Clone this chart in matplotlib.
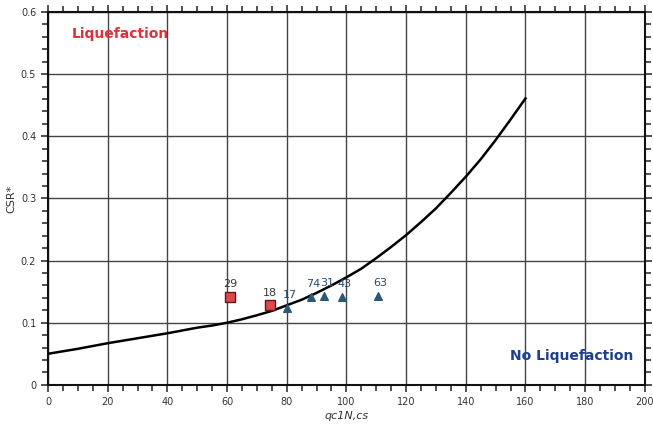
import matplotlib
matplotlib.use("Agg")
from matplotlib import pyplot as plt
from matplotlib.ticker import MultipleLocator
import numpy as np

# boundary curve
curve_q = [0, 5, 10, 15, 20, 25, 30, 35, 40, 45, 50, 55, 60, 65, 70, 75, 80,
           85, 90, 95, 100, 105, 110, 115, 120, 125, 130, 135, 140, 145, 150,
           155, 160]
curve_csr = [0.050, 0.054, 0.058, 0.0625, 0.067, 0.071, 0.075, 0.079, 0.083,
             0.0875, 0.092, 0.0955, 0.100, 0.1055, 0.112, 0.119, 0.128, 0.137,
             0.148, 0.160, 0.173, 0.187, 0.204, 0.222, 0.241, 0.262, 0.284,
             0.309, 0.335, 0.363, 0.394, 0.427, 0.461]

# liquefied sites (squares)
liq_q = [61, 74.5]
liq_csr = [0.142, 0.128]
liq_ids = ["29", "18"]

# non-liquefied sites (triangles)
noliq_q = [80, 88, 92.5, 98.5, 110.5]
noliq_csr = [0.124, 0.142, 0.143, 0.142, 0.143]
noliq_ids = ["17", "74", "31", "43", "63"]

fig = plt.figure(figsize=(6.53, 4.30), dpi=100)
ax = fig.add_axes([0.0735, 0.105, 0.914, 0.867])

ax.set_xlim(0, 200)
ax.set_ylim(0, 0.6)
ax.xaxis.set_major_locator(MultipleLocator(20))
ax.xaxis.set_minor_locator(MultipleLocator(5))
ax.yaxis.set_major_locator(MultipleLocator(0.1))
ax.yaxis.set_minor_locator(MultipleLocator(0.02))
ax.set_yticks(np.arange(0, 0.61, 0.1))
ax.set_yticklabels(["0", "0.1", "0.2", "0.3", "0.4", "0.5", "0.6"])
ax.tick_params(which="both", direction="out", top=True, right=True,
               labelsize=7, colors="#333333", width=1.2)
ax.tick_params(which="major", length=5)
ax.tick_params(which="minor", length=4)
ax.grid(True, which="major", color="#444444", lw=1)
for s in ax.spines.values():
    s.set_linewidth(1.5)
    s.set_color("#111111")

ax.plot(curve_q, curve_csr, color="black", lw=1.8, zorder=3)

ax.scatter(liq_q, liq_csr, marker="s", s=45, color="#e0474c",
           edgecolor="#5a1a1a", lw=1, zorder=4)
ax.scatter(noliq_q, noliq_csr, marker="^", s=30, color="#2b5876",
           edgecolor="#2b5876", zorder=4)

for q, c, t in zip(liq_q, liq_csr, liq_ids):
    ax.annotate(t, (q, c), xytext=(0, 7), textcoords="offset points",
                ha="center", fontsize=8, color="#3a3a3a")
for q, c, t in zip(noliq_q, noliq_csr, noliq_ids):
    ax.annotate(t, (q, c), xytext=(2, 7), textcoords="offset points",
                ha="center", fontsize=8, color="#2b4a66")

ax.text(8, 0.565, "Liquefaction", color="#e0303a", fontsize=10,
        fontweight="bold", va="center")
ax.text(196, 0.046, "No Liquefaction", color="#1f3f8f", fontsize=10,
        fontweight="bold", va="center", ha="right")

ax.set_xlabel("qc1N,cs", fontsize=8, style="italic", color="#333333", labelpad=3)
ax.set_ylabel("CSR*", fontsize=8, color="#333333", labelpad=3)

fig.savefig("out.png", dpi=100)
